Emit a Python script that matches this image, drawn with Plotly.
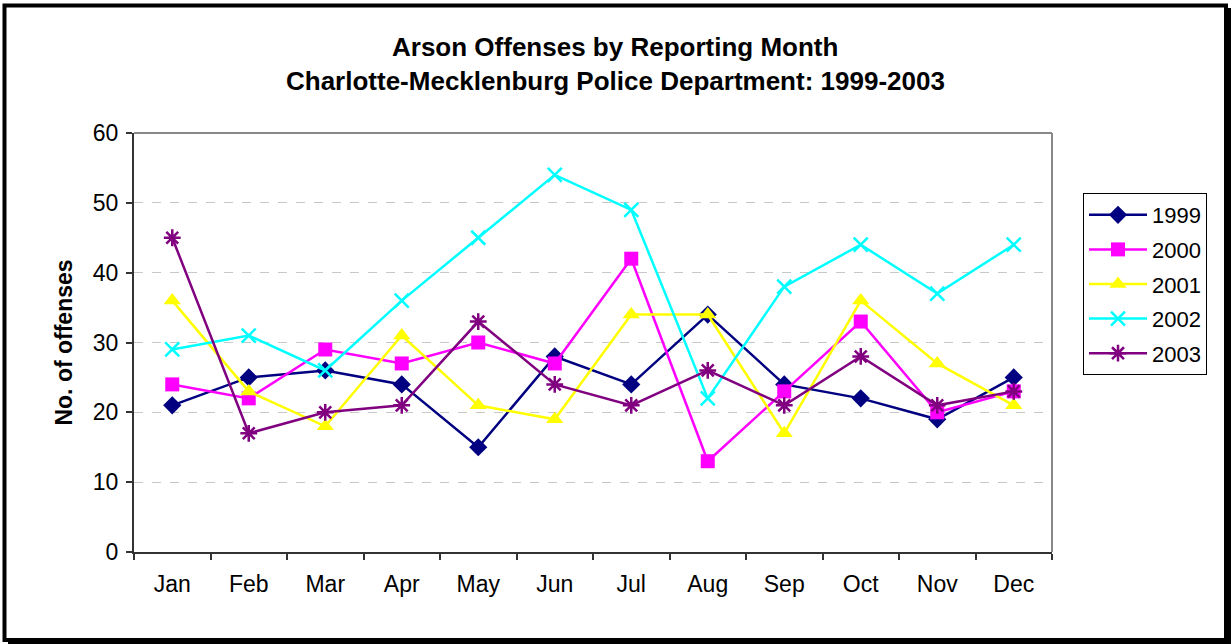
import plotly.graph_objects as go

months = ["Jan", "Feb", "Mar", "Apr", "May", "Jun", "Jul", "Aug", "Sep", "Oct", "Nov", "Dec"]
y1999 = [21, 25, 26, 24, 15, 28, 24, 34, 24, 22, 19, 25]
y2000 = [24, 22, 29, 27, 30, 27, 42, 13, 23, 33, 20, 23]
y2001 = [36, 23, 18, 31, 21, 19, 34, 34, 17, 36, 27, 21]
y2002 = [29, 31, 26, 36, 45, 54, 49, 22, 38, 44, 37, 44]
y2003 = [45, 17, 20, 21, 33, 24, 21, 26, 21, 28, 21, 23]

W, H = 1231, 644
L, R, T, B = 134, 1052, 133, 552


def px(x):
    return (x - L) / (R - L)


def py(y):
    return (B - y) / (B - T)


series = [
    ("1999", y1999, "#000080", dict(symbol="diamond", size=14)),
    ("2000", y2000, "#FF00FF", dict(symbol="square", size=14)),
    ("2001", y2001, "#FFFF00", dict(symbol="triangle-up", size=15)),
    ("2002", y2002, "#00FFFF", dict(symbol="x-thin-open", size=14, line=dict(width=2.5, color="#00FFFF"))),
    ("2003", y2003, "#800080", dict(symbol="asterisk-open", size=14, line=dict(width=2.5, color="#800080"))),
]

fig = go.Figure()
for name, vals, color, mk in series:
    mk = dict(mk)
    mk.setdefault("color", color)
    fig.add_trace(go.Scatter(
        x=months, y=vals, name=name, mode="lines+markers",
        legendgroup=name,
        line=dict(color=color, width=2.5),
        marker=mk,
    ))

font_family = "Arial, Liberation Sans, sans-serif"

fig.update_layout(
    width=W, height=H,
    margin=dict(l=L, r=W - R, t=T, b=H - B),
    paper_bgcolor="white", plot_bgcolor="white",
    font=dict(family=font_family, size=23, color="black"),
    showlegend=True,
    legend=dict(
        x=px(1083), y=py(193), xanchor="left", yanchor="top",
        bordercolor="black", borderwidth=1, bgcolor="white",
        font=dict(size=22), tracegroupgap=3, itemwidth=58,
    ),
    xaxis=dict(
        type="category", tickson="boundaries", ticks="outside", ticklen=6,
        tickcolor="#333333", tickwidth=1.5,
        showline=True, linecolor="#333333", linewidth=2,
        mirror=False, showgrid=False, tickfont=dict(size=23),
        ticklabelstandoff=10,
        range=[-0.5, 11.5],
    ),
    yaxis=dict(
        range=[0, 60], dtick=10, ticks="outside", ticklen=6,
        tickcolor="#333333", tickwidth=1.5,
        showline=True, linecolor="#333333", linewidth=2,
        showgrid=True, gridcolor="#C8C8C8", griddash="dash", gridwidth=1,
        zeroline=False, tickfont=dict(size=23), ticklabelstandoff=3,
        title=dict(text="<b>No. of offenses</b>", font=dict(size=23), standoff=14),
    ),
    annotations=[
        dict(text="<b>Arson Offenses by Reporting Month</b>", x=px(615), y=py(47),
             xref="paper", yref="paper", showarrow=False, xanchor="center", yanchor="middle",
             font=dict(size=26)),
        dict(text="<b>Charlotte-Mecklenburg Police Department: 1999-2003</b>", x=px(615), y=py(81),
             xref="paper", yref="paper", showarrow=False, xanchor="center", yanchor="middle",
             font=dict(size=26)),
    ],
    shapes=[
        dict(type="line", xref="paper", yref="paper", x0=0, x1=1, y0=1, y1=1,
             line=dict(color="#888888", width=2)),
        dict(type="line", xref="paper", yref="paper", x0=1, x1=1, y0=0, y1=1,
             line=dict(color="#888888", width=2)),
        dict(type="rect", xref="paper", yref="paper", x0=px(4.5), x1=px(1226), y0=py(5.5), y1=py(640),
             line=dict(color="black", width=4)),
        dict(type="rect", xref="paper", yref="paper", x0=px(1225), x1=px(1231), y0=py(8), y1=py(644),
             line=dict(width=0), fillcolor="black"),
        dict(type="rect", xref="paper", yref="paper", x0=px(8), x1=px(1231), y0=py(639), y1=py(644),
             line=dict(width=0), fillcolor="black"),
    ],
)

fig.write_html(
    "out.html",
    config={"displayModeBar": False},
    post_script="document.body.style.margin='0';document.body.style.overflow='hidden';",
)
